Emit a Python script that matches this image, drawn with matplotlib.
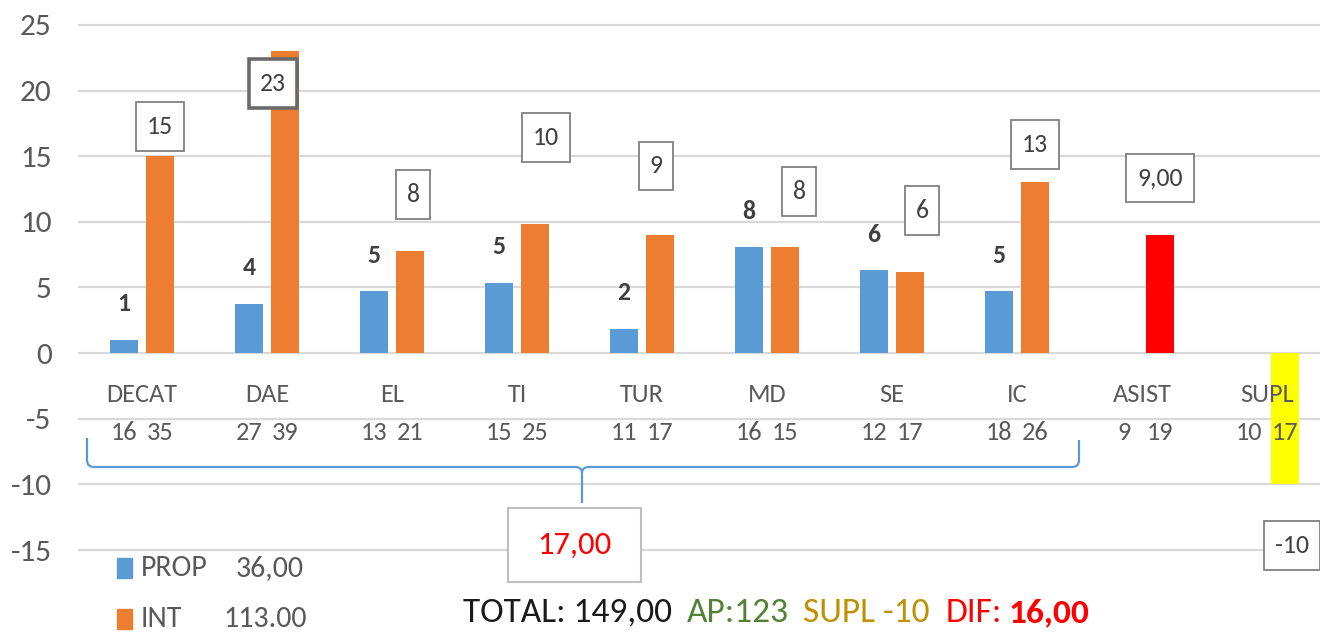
import matplotlib
matplotlib.use("Agg")
import matplotlib.pyplot as plt
import numpy as np
from matplotlib.patches import Rectangle
from matplotlib.path import Path
from matplotlib.patches import PathPatch

plt.rcParams['font.family'] = ['Carlito', 'Roboto Condensed', 'DejaVu Sans']
plt.rcParams['axes.unicode_minus'] = False

# Data
categories = ['DECAT', 'DAE', 'EL', 'TI', 'TUR', 'MD', 'SE', 'IC', 'ASIST', 'SUPL']
count_a = [16, 27, 13, 15, 11, 16, 12, 18, 9, 10]
count_b = [35, 39, 21, 25, 17, 15, 17, 26, 19, 17]
prop = [1.0, 3.75, 4.7, 5.35, 1.85, 8.05, 6.3, 4.7]
inte = [15.0, 23.0, 7.75, 9.8, 9.0, 8.05, 6.15, 13.05, 9.0, -10.0]
inte_labels = ['15', '23', '8', '10', '9', '8', '6', '13', '9,00', '-10']
inte_colors = ['#ED7D31'] * 8 + ['#FF0000', '#FFFF00']
prop_total = '36,00'
int_total = '113.00'
brace_total = '17,00'

W, H = 1320, 636
fig = plt.figure(figsize=(W / 100, H / 100), dpi=100)
ax = fig.add_axes([78 / W, 0, 1 - 78 / W, 1])

def fx(px):
    return px / W

def fy(py):
    return 1 - py / H

def box(padx, pady):
    # rectangle box with separate horizontal / vertical padding (in font sizes)
    def style(x0, y0, width, height, mutation_size):
        dx, dy = padx * mutation_size, pady * mutation_size
        return Path.unit_rectangle().transformed(
            matplotlib.transforms.Affine2D().scale(width + 2 * dx, height + 2 * dy)
            .translate(x0 - dx, y0 - dy))
    return style

grey = '#595959'
bw = 0.224
off = 0.144
x = np.arange(len(categories))

ax.set_xlim(-0.512, 9.424)
ax.set_ylim(-21.55, 26.9)
ax.set_yticks(np.arange(-15, 26, 5))
ax.tick_params(axis='y', length=0, pad=19, labelsize=22.5, labelcolor=grey)
ax.set_xticks([])
ax.grid(axis='y', color='#D9D9D9', linewidth=1.6)
ax.set_axisbelow(True)
for s in ax.spines.values():
    s.set_visible(False)

# bars
pb = ax.bar(x[:8] - off, prop, width=bw, color='#5B9BD5', zorder=2)
ib = ax.bar(x + off, inte, width=bw, color=inte_colors, zorder=2)

# blue labels (bold, no box)
for rect, v in zip(pb, prop):
    ax.annotate(f'{round(v)}', (rect.get_x() + rect.get_width() / 2, v),
                xytext=(0, 36), textcoords='offset pixels', ha='center', va='center',
                fontsize=18.5, fontweight='bold', color='#404040', zorder=5)

# boxed orange labels, moved by hand like in the sheet
box_offsets = [(0, 30), (-12, -32), (3, 57), (11, 87), (-4, 69), (14, 56),
               (12, 62), (0, 37), (0, 57), (7, -61)]
for i, (rect, v, lab) in enumerate(zip(ib, inte, inte_labels)):
    dx, dy = box_offsets[i]
    sel = (i == 1)
    ax.annotate(lab, (rect.get_x() + rect.get_width() / 2, v),
                xytext=(dx, dy), textcoords='offset pixels', ha='center', va='center',
                fontsize=18.5, color='#404040', zorder=6,
                bbox=dict(boxstyle=box(0.42, 0.5), fc='white',
                          ec='#6A6A6A' if sel else '#808080', lw=2.6 if sel else 1.3))

# category names and counts inside the plot
for i, name in enumerate(categories):
    ax.text(i, -3.12, name, ha='center', va='center', fontsize=19, color=grey, zorder=5)
    ax.text(i - off, -6.02, str(count_a[i]), ha='center', va='center', fontsize=19,
            color=grey, zorder=5)
    ax.text(i + off, -6.02, str(count_b[i]), ha='center', va='center', fontsize=19,
            color=grey, zorder=5)

# curly brace under DECAT..IC
verts = [(87, 438), (87, 460), (87, 467), (94, 467), (575, 467), (582, 467), (582, 473),
         (582, 503),
         (582, 473), (582, 467), (589, 467), (1072, 467), (1079, 467), (1079, 460), (1079, 440)]
codes = [Path.MOVETO, Path.LINETO, Path.CURVE3, Path.CURVE3, Path.LINETO, Path.CURVE3,
         Path.CURVE3, Path.LINETO,
         Path.MOVETO, Path.CURVE3, Path.CURVE3, Path.LINETO, Path.CURVE3, Path.CURVE3,
         Path.LINETO]
brace = Path([(fx(a), fy(b)) for a, b in verts], codes)
fig.add_artist(PathPatch(brace, transform=fig.transFigure, fc='none', ec='#5B9BD5', lw=1.6))

fig.text(fx(574), fy(545), brace_total, ha='center', va='center',
         fontsize=23.5, color='#FF0000',
         bbox=dict(boxstyle=box(0.9, 0.7), fc='white', ec='#BFBFBF', lw=1.5))

# legend rows
for row_y, col, name, tot, tx in [(568, '#5B9BD5', 'PROP', prop_total, 236),
                                  (619, '#ED7D31', 'INT', int_total, 223)]:
    fig.add_artist(Rectangle((fx(117), fy(row_y + 10)), 15 / W, 20 / H,
                             transform=fig.transFigure, color=col))
    fig.text(fx(141), fy(row_y), name, ha='left', va='center', fontsize=21.5, color=grey)
    fig.text(fx(tx), fy(row_y), tot, ha='left', va='center', fontsize=21.5, color=grey)

# summary line
summary = [(463, 'TOTAL: 149,00', '#1A1A1A', 'normal'),
           (687, 'AP:123', '#548235', 'normal'),
           (803, 'SUPL -10', '#BF9000', 'normal'),
           (946, 'DIF:', '#FF0000', 'normal'),
           (1009, '16,00', '#FF0000', 'bold')]
for px, txt, col, wt in summary:
    fig.text(fx(px), fy(613), txt, ha='left', va='center', fontsize=25.5, color=col,
             fontweight=wt)

fig.savefig('out.png', dpi=100)
